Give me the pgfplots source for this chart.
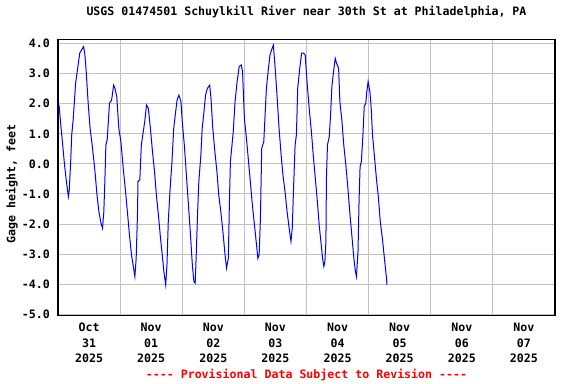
\documentclass[border=0pt]{standalone}
\usepackage{fontspec}
\setmainfont{DejaVu Sans Mono}
\usepackage{pgfplots}
\pgfplotsset{compat=1.18}
\pgfplotstableread{
t v
0.4 1.96
1.2 1.18
1.7 0.74
2.4 0.08
3.1 -0.48
4.0 -1.09
4.35 -0.87
4.9 0.08
5.3 0.96
5.9 1.52
6.8 2.68
7.6 3.18
8.4 3.68
9.1 3.79
9.9 3.90
10.4 3.62
10.9 3.07
11.7 1.96
12.4 1.18
13.2 0.63
14.3 -0.26
15.0 -0.98
15.8 -1.59
16.6 -1.97
17.2 -2.14
17.7 -1.59
18.1 -0.59
18.5 0.63
19.0 0.80
19.4 1.35
19.9 2.02
20.7 2.12
21.5 2.62
22.0 2.51
22.7 2.24
23.5 1.18
24.3 0.74
25.2 -0.15
26.1 -0.92
26.8 -1.59
27.6 -2.36
28.4 -3.03
29.2 -3.47
29.7 -3.75
30.2 -3.14
30.7 -1.70
30.9 -0.59
31.6 -0.53
32.2 0.63
32.9 1.05
33.5 1.40
34.2 1.96
34.9 1.85
35.7 1.18
36.5 0.41
37.3 -0.26
38.0 -1.03
38.8 -1.70
39.6 -2.47
40.4 -3.14
40.9 -3.58
41.6 -4.02
42.1 -3.36
42.6 -1.92
43.4 -0.70
44.0 0.02
44.7 1.18
45.3 1.63
46.0 2.12
46.7 2.29
47.5 2.07
48.0 1.41
48.8 0.63
49.6 -0.37
50.4 -1.37
51.1 -2.25
51.9 -3.36
52.5 -3.91
53.0 -3.97
53.4 -3.03
53.9 -1.70
54.4 -0.59
55.2 0.30
55.7 1.18
56.4 1.74
57.0 2.29
57.7 2.51
58.6 2.62
59.1 2.18
59.8 1.18
60.6 0.41
61.4 -0.26
62.1 -1.03
62.9 -1.59
63.7 -2.25
64.4 -2.91
65.1 -3.47
65.8 -3.14
66.2 -1.37
66.6 0.08
67.1 0.52
67.7 1.07
68.4 2.07
69.2 2.74
70.0 3.24
70.8 3.29
71.3 3.07
72.0 1.52
72.8 0.85
73.6 0.08
74.3 -0.59
75.1 -1.37
75.9 -2.03
76.7 -2.70
77.2 -3.14
77.7 -3.03
78.2 -1.81
78.7 0.52
79.5 0.74
80.0 1.63
80.5 2.51
81.3 3.18
81.9 3.62
82.5 3.79
83.2 3.95
83.9 3.18
84.6 2.29
85.4 1.18
86.2 0.30
86.9 -0.37
87.7 -0.92
88.5 -1.59
89.3 -2.14
90.0 -2.58
90.5 -2.14
91.0 -0.81
91.6 0.63
92.1 0.96
92.6 2.51
93.4 3.18
94.1 3.68
94.9 3.68
95.5 3.62
96.2 2.74
97.1 1.79
97.9 1.07
98.6 0.30
99.4 -0.48
100.2 -1.25
100.9 -2.03
101.7 -2.70
102.2 -3.14
102.7 -3.41
103.1 -3.25
103.5 -2.58
103.7 -0.48
104.1 0.63
104.8 0.91
105.3 1.63
105.8 2.57
106.6 3.18
107.1 3.51
107.6 3.35
108.4 3.18
108.9 2.07
109.7 1.41
110.4 0.63
111.2 -0.04
112.0 -0.81
112.7 -1.59
113.5 -2.36
114.3 -3.14
114.9 -3.58
115.3 -3.75
115.9 -2.91
116.3 -1.25
116.7 -0.09
117.2 0.08
117.8 0.96
118.3 1.91
118.9 2.02
119.3 2.40
119.8 2.74
120.5 2.40
121.0 1.85
121.5 0.96
122.2 0.30
123.0 -0.48
123.8 -1.14
124.5 -1.92
125.3 -2.47
126.1 -3.14
126.9 -3.80
127.1 -4.02
}\gage
\begin{document}
\fontsize{8.7}{11.6}\selectfont\bfseries
\begin{tikzpicture}
\path[use as bounding box] (-43.5pt,-51.2pt) rectangle (388.5pt,236.8pt);
\begin{axis}[
  at={(0,0)}, anchor=south west,
  scale only axis, width=372.75pt, height=207pt,
  xmin=0, xmax=192, ymin=-5.05, ymax=4.13,
  axis line style={black, line width=1.1pt},
  xtick={12,36,60,84,108,132,156,180},
  xticklabels={{Oct\\31\\2025},{Nov\\01\\2025},{Nov\\02\\2025},{Nov\\03\\2025},{Nov\\04\\2025},{Nov\\05\\2025},{Nov\\06\\2025},{Nov\\07\\2025}},
  minor xtick={24,48,72,96,120,144,168},
  ytick={-5,-4,-3,-2,-1,0,1,2,3,4},
  yticklabels={-5.0,-4.0,-3.0,-2.0,-1.0,0.0,1.0,2.0,3.0,4.0},
  major tick length=0pt, minor tick length=0pt,
  xminorgrids, ymajorgrids,
  grid style={color=black!24, line width=0.75pt},
  minor grid style={color=black!24, line width=0.75pt},
  ticklabel style={font=\fontsize{8.7}{11.6}\selectfont\bfseries},
  xticklabel style={align=center, yshift=-2.5pt},
  yticklabel style={xshift=-3pt},
  title={USGS 01474501 Schuylkill River near 30th St at Philadelphia, PA},
  title style={at={(axis description cs:0.5,1)}, anchor=base, yshift=12.4pt, font=\fontsize{8.7}{11.6}\selectfont\bfseries},
  ylabel={Gage height, feet},
  ylabel style={at={(axis description cs:-0.0926,0.477)}, anchor=center, font=\fontsize{8.7}{11.6}\selectfont\bfseries},
  xlabel={-{}-{}-{}- Provisional Data Subject to Revision -{}-{}-{}-},
  xlabel style={at={(axis description cs:0.5,0)}, anchor=center, yshift=-44.5pt, text=red, font=\fontsize{8.7}{11.6}\selectfont\bfseries},
  clip=true,
]
\addplot[color=blue, line width=0.75pt] table[x=t, y=v] {\gage};
\end{axis}
\end{tikzpicture}
\end{document}
